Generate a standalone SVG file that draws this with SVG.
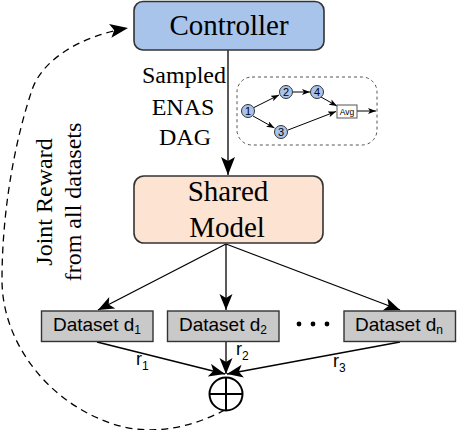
<svg xmlns="http://www.w3.org/2000/svg" width="457" height="430" viewBox="0 0 457 430">
  <style>
    .serif { font-family: "Liberation Serif", "Times New Roman", serif; fill: #000; }
    .sans { font-family: "Liberation Sans", Arial, sans-serif; fill: #000; }
    .box { stroke: #333; stroke-width: 1.6; }
    .ds { fill: #c9c9c9; stroke: #333; stroke-width: 1.4; }
    .edge { stroke: #000; stroke-width: 1.3; fill: none; }
    .dagnode { fill: #a9c4eb; stroke: #333; stroke-width: 1; }
    .dagedge { stroke: #000; stroke-width: 1; fill: none; }
  </style>
  <defs>
    <marker id="ah" markerUnits="userSpaceOnUse" markerWidth="18" markerHeight="14" refX="16" refY="6.5" orient="auto">
      <path d="M0,0 L16,6.5 L0,13 L4,6.5 z" fill="#000"/>
    </marker>
    <marker id="ahBig" markerUnits="userSpaceOnUse" markerWidth="20" markerHeight="16" refX="18" refY="7" orient="auto">
      <path d="M0,0 L18,7 L0,14 L4,7 z" fill="#000"/>
    </marker>
    <marker id="ahSmall" markerUnits="userSpaceOnUse" markerWidth="9" markerHeight="7" refX="8" refY="3" orient="auto">
      <path d="M0,0 L8,3 L0,6 L2,3 z" fill="#000"/>
    </marker>
  </defs>

  <!-- connectors -->
  <g id="connectors">
    <line class="edge" x1="228" y1="50" x2="228" y2="175" marker-end="url(#ahBig)"/>
    <line class="edge" x1="226" y1="244" x2="98" y2="310" marker-end="url(#ah)"/>
    <line class="edge" x1="226" y1="244" x2="226" y2="310" marker-end="url(#ah)"/>
    <line class="edge" x1="226" y1="244" x2="400" y2="310" marker-end="url(#ah)"/>
    <line class="edge" x1="97" y1="342" x2="225" y2="374" marker-end="url(#ah)"/>
    <line class="edge" x1="226" y1="342" x2="226" y2="374" marker-end="url(#ah)"/>
    <line class="edge" x1="400" y1="342" x2="227" y2="374" marker-end="url(#ah)"/>
    <path class="edge" stroke-width="1.5" stroke-dasharray="7,5" d="M 225,410 C 190,428 150,437 110,423 C 45,400 2,340 2,280 C 2,210 15,140 32,90 C 42,60 80,36 128,28" marker-end="url(#ahBig)"/>
  </g>

  <!-- edge labels -->
  <g id="edge-labels">
    <text class="serif" font-size="24" text-anchor="middle" x="184" y="83">Sampled</text>
    <text class="serif" font-size="24" text-anchor="middle" x="183" y="115">ENAS</text>
    <text class="serif" font-size="24" text-anchor="middle" x="185" y="145">DAG</text>
    <g transform="translate(0,202) rotate(-90)">
      <text class="serif" font-size="24" text-anchor="middle" x="0" y="52">Joint Reward</text>
      <text class="serif" font-size="24" text-anchor="middle" x="0" y="81">from all datasets</text>
    </g>
    <text class="sans" font-size="18" x="136" y="365">r<tspan font-size="12" dy="5">1</tspan></text>
    <text class="sans" font-size="18" x="236" y="355">r<tspan font-size="12" dy="5">2</tspan></text>
    <text class="sans" font-size="18" x="333" y="367">r<tspan font-size="12" dy="5">3</tspan></text>
  </g>

  <!-- nodes -->
  <g id="controller">
    <rect class="box" x="134" y="1.5" width="190" height="48.5" rx="9" fill="#a9c4eb"/>
    <text class="serif" font-size="29" text-anchor="middle" x="229" y="35">Controller</text>
  </g>

  <g id="shared-model">
    <rect class="box" x="134" y="176" width="189" height="67" rx="10" fill="#fde3d1"/>
    <text class="serif" font-size="29" text-anchor="middle" x="228" y="201">Shared</text>
    <text class="serif" font-size="29" text-anchor="middle" x="227" y="237">Model</text>
  </g>

  <g id="dag-inset">
    <rect x="237" y="77" width="140" height="68" rx="15" fill="none" stroke="#555" stroke-width="1" stroke-dasharray="3,3"/>
    <line class="dagedge" x1="254" y1="107.5" x2="279" y2="95" marker-end="url(#ahSmall)"/>
    <line class="dagedge" x1="293" y1="92" x2="310" y2="92" marker-end="url(#ahSmall)"/>
    <line class="dagedge" x1="321" y1="97" x2="337" y2="106" marker-end="url(#ahSmall)"/>
    <line class="dagedge" x1="253" y1="116" x2="274.5" y2="128" marker-end="url(#ahSmall)"/>
    <line class="dagedge" x1="288" y1="130" x2="336" y2="111.5" marker-end="url(#ahSmall)"/>
    <line class="dagedge" x1="357" y1="111" x2="376" y2="111" marker-end="url(#ahSmall)"/>
    <g id="dag-node-1"><circle class="dagnode" cx="248" cy="111" r="6.5"/><text class="sans" font-size="11" text-anchor="middle" x="248" y="115">1</text></g>
    <g id="dag-node-2"><circle class="dagnode" cx="286" cy="92" r="6.5"/><text class="sans" font-size="11" text-anchor="middle" x="286" y="96">2</text></g>
    <g id="dag-node-4"><circle class="dagnode" cx="317" cy="92" r="6.5"/><text class="sans" font-size="11" text-anchor="middle" x="317" y="96">4</text></g>
    <g id="dag-node-3"><circle class="dagnode" cx="281" cy="132" r="6.5"/><text class="sans" font-size="11" text-anchor="middle" x="281" y="136">3</text></g>
    <g id="dag-avg"><rect x="337" y="105" width="20" height="13" fill="#fff" stroke="#555" stroke-width="1"/><text class="sans" font-size="8.5" text-anchor="middle" x="347" y="114.5">Avg</text></g>
  </g>

  <g id="dataset-1">
    <rect class="ds" x="41.5" y="311" width="111.5" height="30.5"/>
    <text class="sans" font-size="19" text-anchor="middle" x="97" y="331">Dataset d<tspan font-size="12" dy="3">1</tspan></text>
  </g>
  <g id="dataset-2">
    <rect class="ds" x="167.5" y="311" width="111.5" height="30.5"/>
    <text class="sans" font-size="19" text-anchor="middle" x="223" y="331">Dataset d<tspan font-size="12" dy="3">2</tspan></text>
  </g>
  <g id="ellipsis">
    <circle cx="299" cy="324" r="2.4" fill="#000"/>
    <circle cx="313" cy="324" r="2.4" fill="#000"/>
    <circle cx="327" cy="324" r="2.4" fill="#000"/>
  </g>
  <g id="dataset-n">
    <rect class="ds" x="344" y="311" width="111.5" height="30.5"/>
    <text class="sans" font-size="19" text-anchor="middle" x="399" y="331">Dataset d<tspan font-size="12" dy="3">n</tspan></text>
  </g>

  <g id="sum">
    <circle cx="226" cy="394" r="16.5" fill="#fff" stroke="#000" stroke-width="2"/>
    <line x1="209.5" y1="394" x2="242.5" y2="394" stroke="#000" stroke-width="2"/>
    <line x1="226" y1="377.5" x2="226" y2="410.5" stroke="#000" stroke-width="2"/>
  </g>
</svg>
